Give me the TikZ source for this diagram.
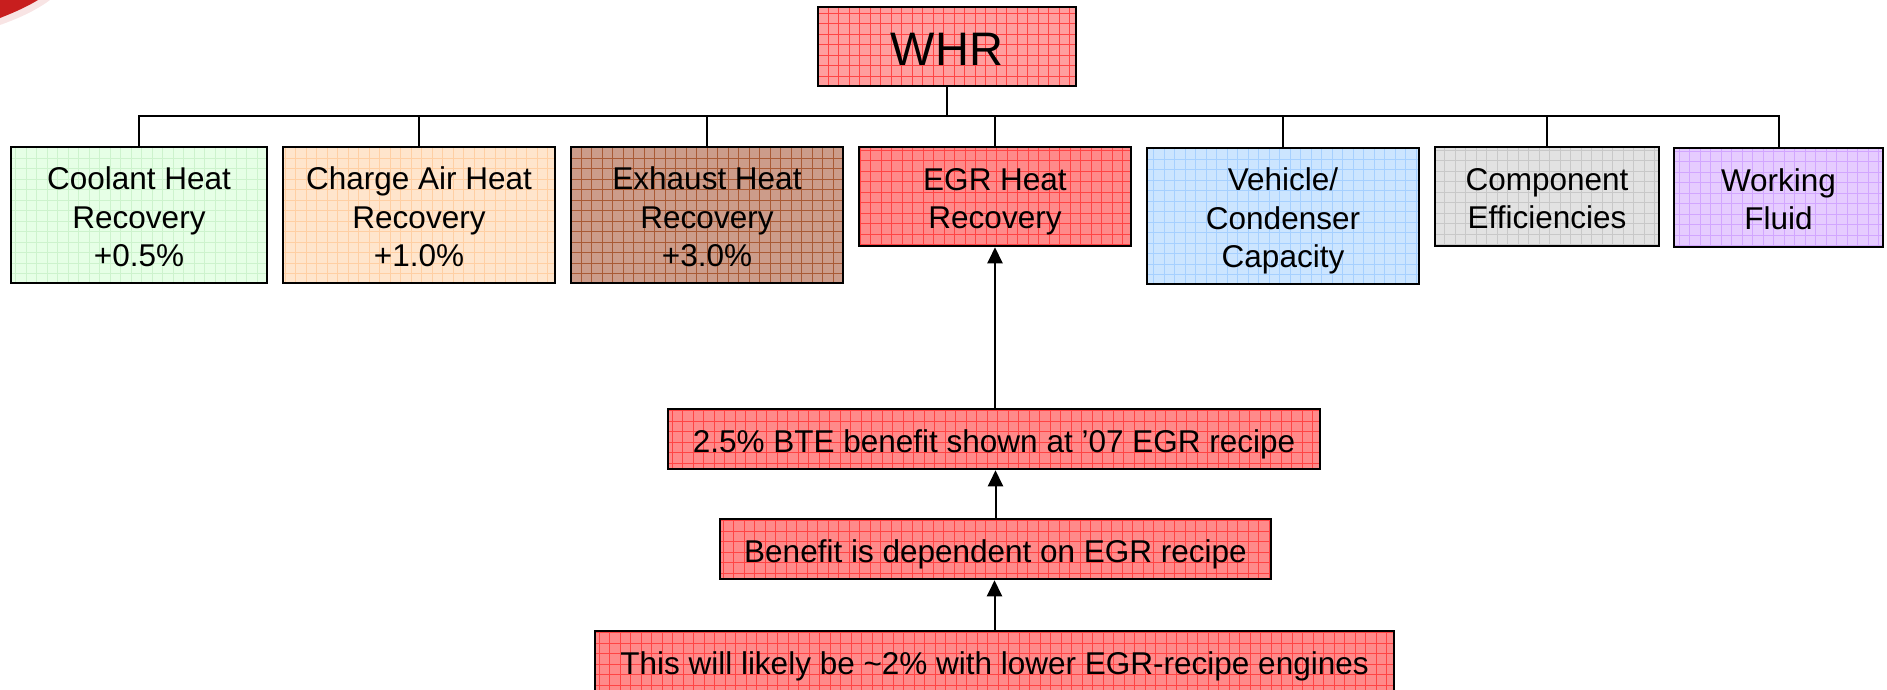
\documentclass[tikz,border=0pt]{standalone}
\usepackage{fontspec}
\setmainfont{Liberation Sans}
\usetikzlibrary{arrows.meta}
\definecolor{whrfill}{HTML}{FF9E9E}
\definecolor{redfill}{HTML}{FF8A8A}
\definecolor{redgrid}{HTML}{FF4444}
\definecolor{coolfill}{HTML}{E6FFE6}
\definecolor{coolgrid}{HTML}{CDF3CD}
\definecolor{chargefill}{HTML}{FFE5CC}
\definecolor{chargegrid}{HTML}{FFCFA3}
\definecolor{exhfill}{HTML}{CC9C8A}
\definecolor{exhgrid}{HTML}{A95A35}
\definecolor{vehfill}{HTML}{CCE5FF}
\definecolor{vehgrid}{HTML}{A6D0FF}
\definecolor{compfill}{HTML}{E2E2E2}
\definecolor{compgrid}{HTML}{C8C8C8}
\definecolor{workfill}{HTML}{E6CCFF}
\definecolor{workgrid}{HTML}{D2A6FF}
\definecolor{swoosh}{HTML}{C81E1E}
\newcommand{\boxlines}[1]{\raisebox{-5.5pt}[\height][\depth]{\begin{tabular}{@{}c@{}}#1\end{tabular}}}
\tikzset{
  box/.style={draw=black, line width=2.5pt, inner sep=0pt, align=center,
    font=\fontsize{31.5}{38.5}\selectfont},
  lowtext/.style={execute at begin node={\rule{0pt}{#1}}},
  gridfill/.style 2 args={fill=#1, path picture={
    \draw[#2, line width=0.7pt] (path picture bounding box.south west)
      grid[step=10.5pt] (path picture bounding box.north east);}},
  conn/.style={line width=2pt, draw=black},
  arr/.style={line width=2pt, draw=black, -{Triangle[width=15pt,length=16pt]}},
}
\begin{document}
\begin{tikzpicture}[x=1pt,y=-1pt]
\useasboundingbox (0,0) rectangle (1887,689);
% corner decoration
\fill[swoosh!12] (0,0) -- (50,0) .. controls (34,12) and (14,20) .. (0,25) -- cycle;
\fill[swoosh] (0,0) -- (38,0) .. controls (25,8) and (10,14) .. (0,18) -- cycle;
% top node
\node[box, gridfill={whrfill}{redgrid}, minimum width=258pt, minimum height=79pt,
  font=\fontsize{47}{52}\selectfont, lowtext=38pt] (whr) at (947,46.5) {WHR};
% children
\node[box, gridfill={coolfill}{coolgrid}, minimum width=256pt, minimum height=136pt]
  (cool) at (139,215) {\boxlines{Coolant Heat\\Recovery\\+0.5\%}};
\node[box, gridfill={chargefill}{chargegrid}, minimum width=272pt, minimum height=136pt]
  (charge) at (419,215) {\boxlines{Charge Air Heat\\Recovery\\+1.0\%}};
\node[box, gridfill={exhfill}{exhgrid}, minimum width=272pt, minimum height=136pt]
  (exh) at (707,215) {\boxlines{Exhaust Heat\\Recovery\\+3.0\%}};
\node[box, gridfill={redfill}{redgrid}, minimum width=272pt, minimum height=99pt]
  (egr) at (995,196.5) {\boxlines{EGR Heat\\Recovery}};
\node[box, gridfill={vehfill}{vehgrid}, minimum width=272pt, minimum height=136pt]
  (veh) at (1283,216) {\boxlines{Vehicle/\\Condenser\\Capacity}};
\node[box, gridfill={compfill}{compgrid}, minimum width=224pt, minimum height=99pt]
  (comp) at (1547,196.5) {\boxlines{Component\\Efficiencies}};
\node[box, gridfill={workfill}{workgrid}, minimum width=209pt, minimum height=99pt]
  (work) at (1778.5,197.5) {\boxlines{Working\\Fluid}};
% bottom chain
\node[box, lowtext=34pt, gridfill={redfill}{redgrid}, minimum width=652pt, minimum height=60pt]
  (bte) at (994,439) {2.5\% BTE benefit shown at ’07 EGR recipe};
\node[box, lowtext=34pt, gridfill={redfill}{redgrid}, minimum width=551pt, minimum height=60pt]
  (dep) at (995.5,549) {Benefit is dependent on EGR recipe};
\node[box, lowtext=34pt, gridfill={redfill}{redgrid}, minimum width=799pt, minimum height=60pt]
  (likely) at (994.5,661) {This will likely be \textasciitilde 2\% with lower EGR-recipe engines};
% tree connectors
\coordinate (bus) at (947,116);
\foreach \c in {cool,charge,exh,egr,veh,comp,work}
  \draw[conn] (whr.south) -- (whr.south |- bus) -| (\c.north);
% arrows
\draw[arr] (bte.north -| egr.south) -- (egr.south);
\draw[arr] (dep.north) -- (bte.south -| dep.north);
\draw[arr] (likely.north) -- (dep.south -| likely.north);
\end{tikzpicture}
\end{document}
